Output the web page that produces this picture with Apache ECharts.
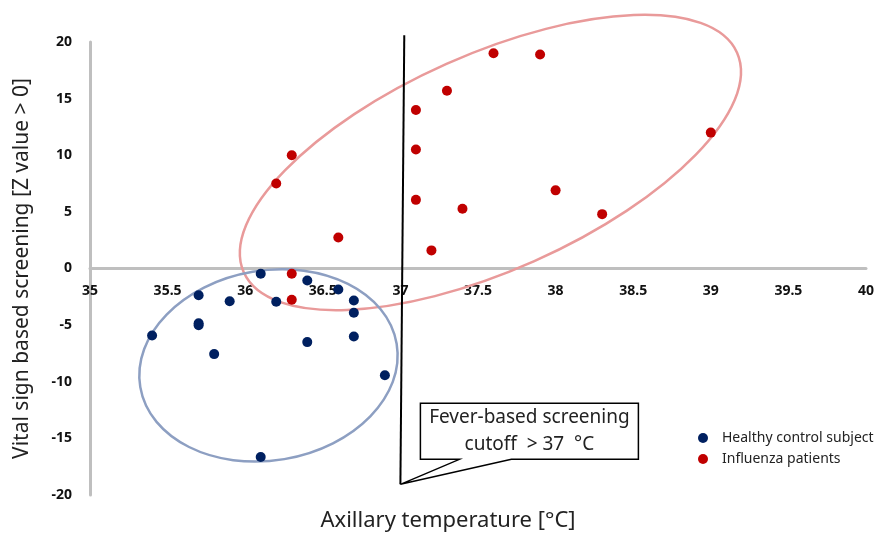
<!DOCTYPE html>
<html>
<head>
<meta charset="utf-8">
<script src="https://cdn.jsdelivr.net/npm/echarts@6/dist/echarts.min.js"></script>
<style>
  html, body { margin: 0; padding: 0; background: #fff; }
  #chart { width: 877px; height: 534px; }
</style>
</head>
<body>
<div id="chart"></div>
<script>
// data: [axillary temperature, Z value]
const healthy = [
  [36.1, -0.47], [36.4, -1.06], [35.7, -2.36], [35.9, -2.89], [36.2, -2.94],
  [36.6, -1.85], [36.7, -2.82], [36.7, -3.91], [35.7, -4.83], [35.7, -5.0],
  [35.4, -5.91], [35.8, -7.56], [36.4, -6.5], [36.7, -6.0], [36.9, -9.42],
  [36.1, -16.65]
]
const influenza = [
  [36.3, -0.47], [36.3, -2.76], [36.2, 7.5], [36.3, 10.0], [36.6, 2.74],
  [37.1, 14.0], [37.1, 10.5], [37.1, 6.06], [37.2, 1.6], [37.3, 15.7],
  [37.4, 5.27], [37.6, 19.0], [37.9, 18.9], [38.0, 6.9], [38.3, 4.8],
  [39.0, 12.0]
]
const xTicks = [35, 35.5, 36, 36.5, 37, 37.5, 38, 38.5, 39, 39.5, 40]
const yTicks = [-20, -15, -10, -5, 0, 5, 10, 15, 20]
const seriesNames = ['Healthy control subject', 'Influenza patients']
const cutoff = 37

const labelFont = 'Noto Sans'

// 椭圆 (圈出两组)
const ellipse = (center, rx, ry, deg, color) => ({
  type: 'custom',
  silent: true,
  z: 1,
  renderItem: (params, api) => {
    const c = api.coord(center)
    return {
      type: 'ellipse',
      shape: { cx: 0, cy: 0, rx: rx, ry: ry },
      x: c[0],
      y: c[1],
      rotation: deg * Math.PI / 180,
      style: { fill: 'none', stroke: color, lineWidth: 2.5 }
    }
  },
  data: [center]
})

const myChart = echarts.init(document.getElementById('chart'))

// grid 高度 453，0 在正中间 -> x 轴上移半个高度
const gridHeight = 534 - 42 - 39

const options = {
  animation: false,
  grid: { left: 90, right: 10, top: 42, bottom: 39 },
  legend: {
    data: seriesNames,
    orient: 'vertical',
    left: 693,
    top: 426,
    itemWidth: 28,
    itemHeight: 10,
    itemGap: 7,
    icon: 'circle',
    textStyle: { fontFamily: labelFont, fontSize: 14, color: '#222' }
  },
  xAxis: {
    type: 'value',
    min: xTicks[0],
    max: xTicks[xTicks.length - 1],
    interval: 0.5,
    position: 'bottom',
    offset: -gridHeight / 2,
    splitLine: { show: false },
    axisTick: { show: false },
    axisLine: { onZero: false, lineStyle: { color: '#bfbfbf', width: 3 } },
    axisLabel: {
      margin: 16,
      fontFamily: labelFont,
      fontWeight: 'bold',
      fontSize: 14,
      color: '#111',
      showMinLabel: true,
      showMaxLabel: true
    }
  },
  yAxis: {
    type: 'value',
    min: yTicks[0],
    max: yTicks[yTicks.length - 1],
    interval: 5,
    splitLine: { show: false },
    axisTick: { show: false },
    axisLine: { show: true, onZero: false, lineStyle: { color: '#bfbfbf', width: 3 } },
    axisLabel: {
      margin: 18,
      fontFamily: labelFont,
      fontWeight: 'bold',
      fontSize: 14,
      color: '#111'
    },
    name: 'Vital sign based screening [Z value > 0]',
    nameLocation: 'middle',
    nameGap: 57,
    nameTextStyle: { fontFamily: labelFont, fontSize: 21, color: '#222' }
  },
  series: [
    ellipse([37.58, 9.36], 270, 108, 24, '#e99a9a'),
    ellipse([36.15, -8.56], 130, 95, 9.6, '#8d9fc2'),
    {
      name: seriesNames[0],
      type: 'scatter',
      symbolSize: 10,
      color: '#002060',
      itemStyle: { opacity: 1 },
      z: 3,
      data: healthy
    },
    {
      name: seriesNames[1],
      type: 'scatter',
      symbolSize: 10,
      color: '#c00000',
      itemStyle: { opacity: 1 },
      z: 3,
      data: influenza
    }
  ]
}
myChart.setOption(options)

// cutoff line + callout
const lineTop = myChart.convertToPixel({ gridIndex: 0 }, [cutoff + 0.025, 20.6])
const tip = myChart.convertToPixel({ gridIndex: 0 }, [cutoff, -19.06])
const box = { x: tip[0] + 20, y: tip[1] - 81, w: 218, h: 56 }

myChart.setOption({
  graphic: [
    {
      type: 'line',
      z: 10,
      shape: { x1: lineTop[0], y1: lineTop[1], x2: tip[0], y2: tip[1] },
      style: { stroke: '#000', lineWidth: 2 }
    },
    {
      type: 'polygon',
      z: 10,
      shape: {
        points: [
          [box.x, box.y], [box.x + box.w, box.y], [box.x + box.w, box.y + box.h],
          [box.x + 91, box.y + box.h], [tip[0], tip[1]], [box.x + 39, box.y + box.h],
          [box.x, box.y + box.h]
        ]
      },
      style: { fill: '#fff', stroke: '#000', lineWidth: 1.5 }
    },
    {
      type: 'text',
      z: 11,
      x: box.x + box.w / 2,
      y: box.y + box.h / 2,
      style: {
        text: 'Fever-based screening\ncutoff  > 37  °C',
        align: 'center',
        verticalAlign: 'middle',
        fontFamily: labelFont,
        fontSize: 19,
        lineHeight: 27,
        fill: '#222'
      }
    },
    {
      type: 'text',
      x: 448,
      y: 521,
      style: {
        text: 'Axillary temperature [°C]',
        align: 'center',
        verticalAlign: 'middle',
        fontFamily: labelFont,
        fontSize: 22,
        fill: '#222'
      }
    }
  ]
})
</script>
</body>
</html>
